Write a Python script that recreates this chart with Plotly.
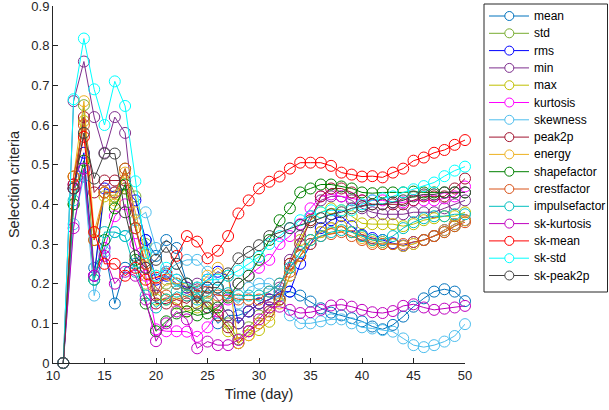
import plotly.graph_objects as go

days = list(range(11, 51))

names = ["mean", "std", "rms", "min", "max", "kurtosis", "skewness", "peak2p",
         "energy", "shapefactor", "crestfactor", "impulsefactor", "sk-kurtosis",
         "sk-mean", "sk-std", "sk-peak2p"]

colors = ["#0072BD", "#77AC30", "#0000FF", "#7E2F8E", "#BFBF00", "#FF00FF",
          "#4DBEEE", "#A2142F", "#EDB120", "#008000", "#D95319", "#00BFBF",
          "#BF00BF", "#FF0000", "#00FFFF", "#404040"]

x_ticks = [10, 15, 20, 25, 30, 35, 40, 45, 50]
y_ticks = [0, 0.1, 0.2, 0.3, 0.4, 0.5, 0.6, 0.7, 0.8, 0.9]
y_tick_labels = ["0", "0.1", "0.2", "0.3", "0.4", "0.5", "0.6", "0.7", "0.8", "0.9"]

mean = [0, .44, .47, .24, .29, .15, .24, .25, .31, .27, .31, .29, .20, .18, .14, .10, .12, .12, .13, .15,
        .16, .17, .18, .17, .155, .138, .127, .12, .113, .105, .092, .085, .096, .117, .142, .163, .18, .186, .18, .156]
std = [0, .40, .65, .22, .43, .42, .49, .42, .30, .17, .20, .20, .18, .17, .15, .12, .10, .06, .09, .12,
       .14, .16, .22, .27, .31, .33, .34, .345, .33, .32, .31, .305, .30, .295, .30, .31, .32, .33, .345, .36]
rms = [0, .45, .53, .22, .44, .43, .44, .41, .31, .21, .22, .20, .19, .19, .21, .23, .22, .10, .13, .15,
       .16, .18, .18, .25, .30, .34, .36, .37, .345, .323, .315, .31, .302, .296, .305, .31, .32, .335, .35, .36]
vmin = [0, .66, .76, .62, .53, .62, .58, .34, .24, .17, .23, .21, .19, .20, .19, .16, .12, .10, .13, .15,
        .16, .19, .26, .32, .37, .41, .42, .42, .41, .39, .38, .375, .375, .375, .38, .38, .38, .39, .40, .41]
vmax = [0, .47, .61, .31, .42, .40, .44, .36, .20, .16, .16, .15, .13, .14, .155, .13, .08, .05, .07, .083,
        .104, .16, .25, .31, .36, .38, .39, .385, .37, .352, .35, .35, .35, .345, .35, .36, .365, .37, .37, .38]
kurtosis = [0, .44, .49, .22, .29, .37, .40, .30, .22, .085, .08, .08, .079, .066, .09, .13, .16, .20, .22, .24,
            .26, .30, .32, .35, .39, .42, .425, .42, .415, .41, .41, .41, .405, .405, .41, .41, .41, .415, .42, .445]
skewness = [0, .35, .47, .17, .28, .33, .32, .36, .38, .29, .23, .25, .26, .26, .23, .21, .17, .15, .19, .20,
            .20, .18, .12, .10, .10, .105, .11, .11, .10, .09, .087, .083, .079, .062, .045, .04, .045, .054, .068, .098]
peak2p = [0, .44, .62, .43, .46, .46, .46, .34, .25, .15, .15, .16, .15, .17, .14, .12, .09, .05, .08, .10,
          .13, .16, .25, .30, .36, .42, .44, .44, .43, .41, .40, .40, .40, .40, .41, .42, .42, .42, .44, .465]
energy = [0, .47, .66, .33, .43, .41, .48, .38, .27, .22, .21, .20, .20, .19, .22, .24, .22, .05, .07, .10,
          .12, .15, .22, .27, .31, .33, .34, .345, .33, .315, .305, .30, .30, .295, .30, .31, .32, .335, .35, .36]
shapefactor = [0, .40, .51, .21, .31, .39, .45, .26, .15, .08, .105, .125, .13, .12, .125, .14, .165, .20, .22, .26,
               .31, .36, .39, .43, .44, .45, .45, .445, .44, .43, .428, .43, .43, .43, .432, .43, .43, .43, .43, .43]
crestfactor = [0, .47, .60, .31, .43, .43, .49, .34, .25, .19, .17, .16, .17, .18, .18, .17, .17, .16, .16, .16,
               .18, .20, .23, .27, .30, .32, .325, .33, .32, .31, .30, .30, .30, .30, .305, .31, .32, .33, .345, .355]
impulsefactor = [0, .41, .49, .21, .33, .33, .32, .23, .17, .14, .16, .18, .17, .16, .17, .19, .176, .17, .17, .17,
                 .18, .20, .24, .28, .31, .32, .33, .335, .33, .32, .31, .31, .32, .34, .355, .365, .37, .37, .375, .375]
sk_kurtosis = [0, .34, .49, .22, .27, .20, .23, .22, .16, .055, .10, .13, .11, .037, .054, .045, .045, .058, .08, .11,
               .14, .142, .134, .126, .128, .134, .145, .147, .142, .134, .128, .126, .131, .144, .148, .14, .134, .137, .14, .144]
sk_mean = [0, .45, .57, .33, .25, .25, .22, .24, .21, .215, .225, .27, .32, .306, .264, .283, .32, .377, .41, .44,
           .457, .47, .49, .505, .505, .505, .497, .48, .475, .47, .471, .468, .48, .49, .51, .518, .53, .537, .55, .562]
sk_std = [0, .665, .818, .69, .60, .71, .648, .458, .277, .22, .24, .21, .20, .19, .21, .21, .22, .233, .25, .268,
          .30, .32, .34, .36, .37, .38, .385, .385, .385, .40, .41, .415, .42, .43, .438, .446, .455, .471, .485, .495]
sk_peak2p = [0, .44, .58, .465, .528, .528, .38, .27, .24, .26, .293, .25, .20, .15, .19, .19, .226, .264, .28, .297,
             .32, .33, .34, .348, .355, .365, .375, .38, .39, .395, .40, .40, .405, .41, .42, .425, .425, .43, .43, .43]

series = [mean, std, rms, vmin, vmax, kurtosis, skewness, peak2p, energy, shapefactor,
          crestfactor, impulsefactor, sk_kurtosis, sk_mean, sk_std, sk_peak2p]

W, H = 609, 410
ML, MR, MT, MB = 53, 144, 6, 47
PW, PH = W - ML - MR, H - MT - MB


def px_x(p):
    return (p - ML) / PW


def px_y(p):
    return (H - MB - p) / PH


fig = go.Figure()
for name, col, vals in zip(names, colors, series):
    fig.add_trace(go.Scatter(
        x=days, y=vals, name=name, mode="lines+markers",
        line=dict(color=col, width=1),
        marker=dict(symbol="circle-open", size=11, color=col, line=dict(width=1, color=col)),
        cliponaxis=False, showlegend=False,
    ))

# legend box drawn to mimic the original legend layout
axis_col = "#262626"
shapes = [dict(type="rect", xref="paper", yref="paper",
               x0=px_x(484), x1=px_x(607.5), y0=px_y(292), y1=px_y(4),
               line=dict(color=axis_col, width=1), fillcolor="white", layer="above")]
annotations = []
row0, step = 16.0, 17.3
for i, (name, col) in enumerate(zip(names, colors)):
    yc = row0 + i * step
    shapes.append(dict(type="line", xref="paper", yref="paper",
                       x0=px_x(489), x1=px_x(529), y0=px_y(yc), y1=px_y(yc),
                       line=dict(color=col, width=1), layer="above"))
    shapes.append(dict(type="circle", xref="paper", yref="paper",
                       xsizemode="pixel", ysizemode="pixel",
                       xanchor=px_x(509.3), yanchor=px_y(yc),
                       x0=-4.5, x1=4.5, y0=-4.5, y1=4.5,
                       line=dict(color=col, width=1), fillcolor="white", layer="above"))
    annotations.append(dict(xref="paper", yref="paper", x=px_x(531.5), y=px_y(yc),
                            xanchor="left", yanchor="middle", text=name, showarrow=False,
                            font=dict(size=12, color="black")))

fig.update_layout(
    width=W, height=H,
    margin=dict(l=ML, r=MR, t=MT, b=MB),
    paper_bgcolor="white", plot_bgcolor="white",
    font=dict(family="Liberation Sans, Arial, sans-serif", size=13, color=axis_col),
    showlegend=False,
    shapes=shapes, annotations=annotations,
    xaxis=dict(range=[10, 50], tickmode="array", tickvals=x_ticks,
               showgrid=False, zeroline=False, showline=True, linecolor=axis_col, linewidth=1,
               ticks="inside", ticklen=5, tickcolor=axis_col, automargin=False,
               ticklabeloverflow="allow",
               title=dict(text="Time (day)", font=dict(size=14.5), standoff=7)),
    yaxis=dict(range=[0, 0.9], tickmode="array", tickvals=y_ticks, ticktext=y_tick_labels,
               showgrid=False, zeroline=False, showline=True, linecolor=axis_col, linewidth=1,
               ticks="inside", ticklen=5, tickcolor=axis_col, automargin=False,
               ticklabeloverflow="allow",
               title=dict(text="Selection criteria", font=dict(size=14.5), standoff=8)),
)

fig.write_html("out.html", config={"displayModeBar": False, "staticPlot": True},
               post_script="document.body.style.margin='0';document.body.style.overflow='hidden';")
